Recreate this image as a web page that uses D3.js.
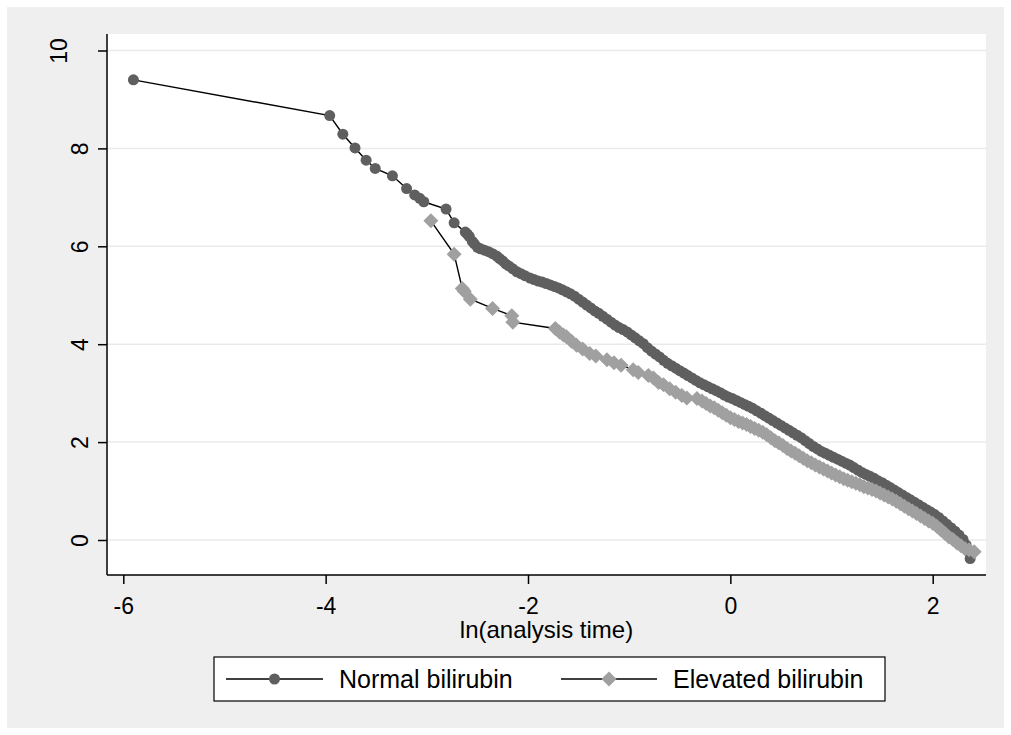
<!DOCTYPE html>
<html>
<head>
<meta charset="utf-8">
<script src="https://cdn.jsdelivr.net/npm/d3@7"></script>
<style>
    body { margin: 0; background: #fff; }
    text { font-family: 'Liberation Sans', Arial, Helvetica, sans-serif; fill: #000; }
</style>
</head>
<body>
<svg width="1011" height="735"></svg>
<script>
'use strict';

// ln(analysis time) vs log-log survival
var normalX = [-5.90, -3.96, -3.83, -3.71, -3.60, -3.51, -3.34, -3.20, -3.12, -3.07, -3.03, -2.81, -2.73,
    -2.62, -2.60, -2.58, -2.55, -2.53, -2.50, -2.47, -2.43, -2.39, -2.35, -2.31, -2.28, -2.25, -2.22,
    -2.19, -2.15, -2.11, -2.07, -2.03, -1.98, -1.94, -1.90, -1.86, -1.82, -1.78, -1.74, -1.70, -1.66,
    -1.62, -1.58, -1.54, -1.50, -1.46, -1.42, -1.38, -1.34, -1.30, -1.26, -1.22, -1.18, -1.14, -1.10,
    -1.06, -1.02, -0.98, -0.94, -0.90, -0.86, -0.82, -0.78, -0.74, -0.70, -0.66, -0.62, -0.58, -0.54,
    -0.50, -0.46, -0.42, -0.38, -0.34, -0.30, -0.26, -0.22, -0.18, -0.14, -0.10, -0.06, -0.02, 0.02,
    0.06, 0.10, 0.14, 0.18, 0.22, 0.26, 0.30, 0.34, 0.38, 0.42, 0.46, 0.50, 0.54, 0.58, 0.62, 0.66,
    0.70, 0.74, 0.78, 0.82, 0.86, 0.90, 0.94, 0.98, 1.02, 1.06, 1.10, 1.14, 1.18, 1.22, 1.26, 1.30,
    1.34, 1.38, 1.42, 1.46, 1.50, 1.54, 1.58, 1.62, 1.66, 1.70, 1.74, 1.78, 1.82, 1.86, 1.90, 1.94,
    1.98, 2.02, 2.06, 2.10, 2.14, 2.18, 2.22, 2.26, 2.30, 2.33, 2.35, 2.37];
var normalY = [9.40, 8.67, 8.29, 8.01, 7.76, 7.59, 7.44, 7.18, 7.05, 6.98, 6.91, 6.76, 6.48,
    6.29, 6.25, 6.20, 6.10, 6.05, 5.98, 5.95, 5.92, 5.89, 5.85, 5.80, 5.75, 5.70, 5.64,
    5.60, 5.54, 5.48, 5.44, 5.40, 5.35, 5.32, 5.29, 5.27, 5.24, 5.21, 5.18, 5.15, 5.11,
    5.07, 5.03, 4.98, 4.92, 4.86, 4.80, 4.74, 4.68, 4.63, 4.57, 4.51, 4.45, 4.39, 4.34,
    4.30, 4.25, 4.19, 4.13, 4.07, 4.01, 3.93, 3.86, 3.80, 3.74, 3.67, 3.61, 3.56, 3.51,
    3.46, 3.41, 3.36, 3.31, 3.26, 3.21, 3.17, 3.13, 3.09, 3.05, 3.01, 2.96, 2.92, 2.89,
    2.85, 2.81, 2.77, 2.73, 2.69, 2.64, 2.59, 2.54, 2.49, 2.44, 2.39, 2.34, 2.29, 2.24, 2.19, 2.14,
    2.09, 2.03, 1.97, 1.91, 1.86, 1.81, 1.77, 1.73, 1.69, 1.65, 1.61, 1.57, 1.53, 1.48, 1.43, 1.38,
    1.34, 1.30, 1.26, 1.21, 1.17, 1.12, 1.07, 1.02, 0.97, 0.92, 0.87, 0.82, 0.77, 0.72, 0.67, 0.62,
    0.57, 0.52, 0.46, 0.39, 0.32, 0.25, 0.18, 0.10, 0.01, -0.10, -0.22, -0.38];

var elevatedX = [-2.96, -2.73, -2.65, -2.63, -2.57, -2.35, -2.16, -2.15, -1.73, -1.69, -1.65, -1.62,
    -1.57, -1.52, -1.46, -1.39, -1.33, -1.22, -1.15, -1.08, -0.96, -0.91, -0.81, -0.76, -0.71, -0.66,
    -0.60, -0.54, -0.48, -0.43, -0.33, -0.28, -0.24, -0.20, -0.16, -0.12, -0.08, -0.04, 0.00, 0.04,
    0.08, 0.12, 0.16, 0.20, 0.24, 0.28, 0.32, 0.36, 0.40, 0.44, 0.48, 0.52, 0.56, 0.60, 0.64, 0.68,
    0.72, 0.76, 0.80, 0.84, 0.88, 0.92, 0.96, 1.00, 1.04, 1.08, 1.12, 1.16, 1.20, 1.24, 1.28, 1.32,
    1.36, 1.40, 1.44, 1.48, 1.52, 1.56, 1.60, 1.64, 1.68, 1.72, 1.76, 1.80, 1.84, 1.88, 1.92, 1.96,
    2.00, 2.04, 2.08, 2.12, 2.16, 2.20, 2.24, 2.28, 2.32, 2.36, 2.41];
var elevatedY = [6.52, 5.84, 5.14, 5.08, 4.92, 4.73, 4.58, 4.45, 4.32, 4.25, 4.19, 4.15,
    4.06, 3.98, 3.90, 3.81, 3.76, 3.68, 3.62, 3.57, 3.48, 3.42, 3.36, 3.31, 3.22, 3.17,
    3.09, 3.02, 2.95, 2.90, 2.89, 2.84, 2.79, 2.74, 2.70, 2.65, 2.60, 2.55, 2.50, 2.46,
    2.42, 2.39, 2.36, 2.32, 2.28, 2.24, 2.20, 2.15, 2.09, 2.03, 1.98, 1.93, 1.87, 1.82, 1.77, 1.72,
    1.67, 1.62, 1.58, 1.53, 1.49, 1.45, 1.41, 1.37, 1.33, 1.29, 1.25, 1.22, 1.19, 1.16, 1.13, 1.09,
    1.06, 1.03, 1.00, 0.96, 0.92, 0.88, 0.84, 0.79, 0.74, 0.69, 0.64, 0.59, 0.54, 0.49, 0.44, 0.39,
    0.34, 0.28, 0.21, 0.14, 0.06, 0.01, -0.06, -0.12, -0.18, -0.20, -0.24];

var xTicks = [-6, -4, -2, 0, 2];
var yTicks = [0, 2, 4, 6, 8, 10];
var seriesNames = ['Normal bilirubin', 'Elevated bilirubin'];
var xTitle = 'ln(analysis time)';

var svg = d3.select('svg'),
    plot = {left: 107, right: 986, top: 34, bottom: 575};

var x = d3.scaleLinear().domain([-6, 2]).range([123.3, 932.7]);
var y = d3.scaleLinear().domain([0, 10]).range([540, 50.5]);

function zip(xs, ys) {
    return xs.map(function(v, i) { return {x: v, y: ys[i]}; });
}
var series = [
    {name: seriesNames[0], values: zip(normalX, normalY), fill: '#5f5f5f', shape: 'circle'},
    {name: seriesNames[1], values: zip(elevatedX, elevatedY), fill: '#a0a0a0', shape: 'diamond'}
];

function diamond(r) {
    return 'M0,' + (-r) + 'L' + r + ',0L0,' + r + 'L' + (-r) + ',0Z';
}
// plain hyphen for negatives, as Stata prints them
function label(d) { return String(d); }

// backgrounds
svg.append('rect').attr('width', 1011).attr('height', 735).attr('fill', '#fff');
svg.append('rect')
    .attr('x', 7).attr('y', 7).attr('width', 997).attr('height', 721)
    .attr('fill', '#efefef');
svg.append('rect')
    .attr('x', plot.left).attr('y', plot.top)
    .attr('width', plot.right - plot.left).attr('height', plot.bottom - plot.top)
    .attr('fill', '#fff');

// grid
svg.append('g').selectAll('line')
    .data(yTicks)
    .enter().append('line')
    .attr('x1', plot.left).attr('x2', plot.right)
    .attr('y1', function(d) { return y(d); })
    .attr('y2', function(d) { return y(d); })
    .attr('stroke', '#eaeaea')
    .attr('stroke-width', 1.5);

// axes
var xAxis = svg.append('g')
    .attr('transform', 'translate(0,' + plot.bottom + ')')
    .call(d3.axisBottom(x).tickValues(xTicks).tickFormat(label)
        .tickSize(9).tickPadding(13.5).tickSizeOuter(0));
xAxis.select('.domain').attr('d', 'M' + plot.left + ',0H' + plot.right);
var yAxis = svg.append('g')
    .attr('transform', 'translate(' + plot.left + ',0)')
    .call(d3.axisLeft(y).tickValues(yTicks).tickFormat(label).tickSize(9).tickSizeOuter(0));
yAxis.select('.domain').attr('d', 'M0,' + plot.top + 'V' + plot.bottom);

svg.selectAll('.domain, .tick line').attr('stroke', '#000').attr('stroke-width', 1.5);
svg.selectAll('.tick text').attr('font-size', 23).attr('fill', '#000')
    .attr('font-family', "'Liberation Sans', Arial, sans-serif");

// vertical y labels, baseline toward the axis
yAxis.selectAll('.tick text')
    .attr('x', null).attr('dy', null)
    .attr('text-anchor', 'middle')
    .attr('transform', function(d) {
        var bx = String(d).length > 1 ? 67 - plot.left : 88 - plot.left;
        return 'translate(' + bx + ',0) rotate(-90)';
    });

svg.append('text')
    .attr('x', (plot.left + plot.right) / 2).attr('y', 638)
    .attr('text-anchor', 'middle')
    .attr('font-size', 24)
    .text(xTitle);

// series
var line = d3.line()
    .x(function(d) { return x(d.x); })
    .y(function(d) { return y(d.y); });

series.forEach(function(s) {
    svg.append('path')
        .attr('d', line(s.values))
        .attr('fill', 'none')
        .attr('stroke', '#000')
        .attr('stroke-width', 1.4);
    var marks = svg.append('g').selectAll('.mark')
        .data(s.values)
        .enter();
    if (s.shape === 'circle') {
        marks.append('circle')
            .attr('cx', function(d) { return x(d.x); })
            .attr('cy', function(d) { return y(d.y); })
            .attr('r', 5.5)
            .attr('fill', s.fill);
    } else {
        marks.append('path')
            .attr('d', diamond(7.5))
            .attr('transform', function(d) { return 'translate(' + x(d.x) + ',' + y(d.y) + ')'; })
            .attr('fill', s.fill);
    }
});

// legend
var legend = svg.append('g');
legend.append('rect')
    .attr('x', 214).attr('y', 657).attr('width', 671).attr('height', 44)
    .attr('fill', '#fff').attr('stroke', '#000').attr('stroke-width', 1.2);

var legendItems = [
    {x0: 226, x1: 323, text: 339},
    {x0: 561, x1: 657, text: 673}
];
legendItems.forEach(function(li, i) {
    var s = series[i], cy = 679, cx = (li.x0 + li.x1) / 2;
    legend.append('line')
        .attr('x1', li.x0).attr('x2', li.x1).attr('y1', cy).attr('y2', cy)
        .attr('stroke', '#000').attr('stroke-width', 1.4);
    if (s.shape === 'circle') {
        legend.append('circle').attr('cx', cx).attr('cy', cy).attr('r', 5.5).attr('fill', s.fill);
    } else {
        legend.append('path').attr('d', diamond(7.5))
            .attr('transform', 'translate(' + cx + ',' + cy + ')').attr('fill', s.fill);
    }
    legend.append('text')
        .attr('x', li.text).attr('y', cy + 9)
        .attr('font-size', 25)
        .text(s.name);
});
</script>
</body>
</html>
